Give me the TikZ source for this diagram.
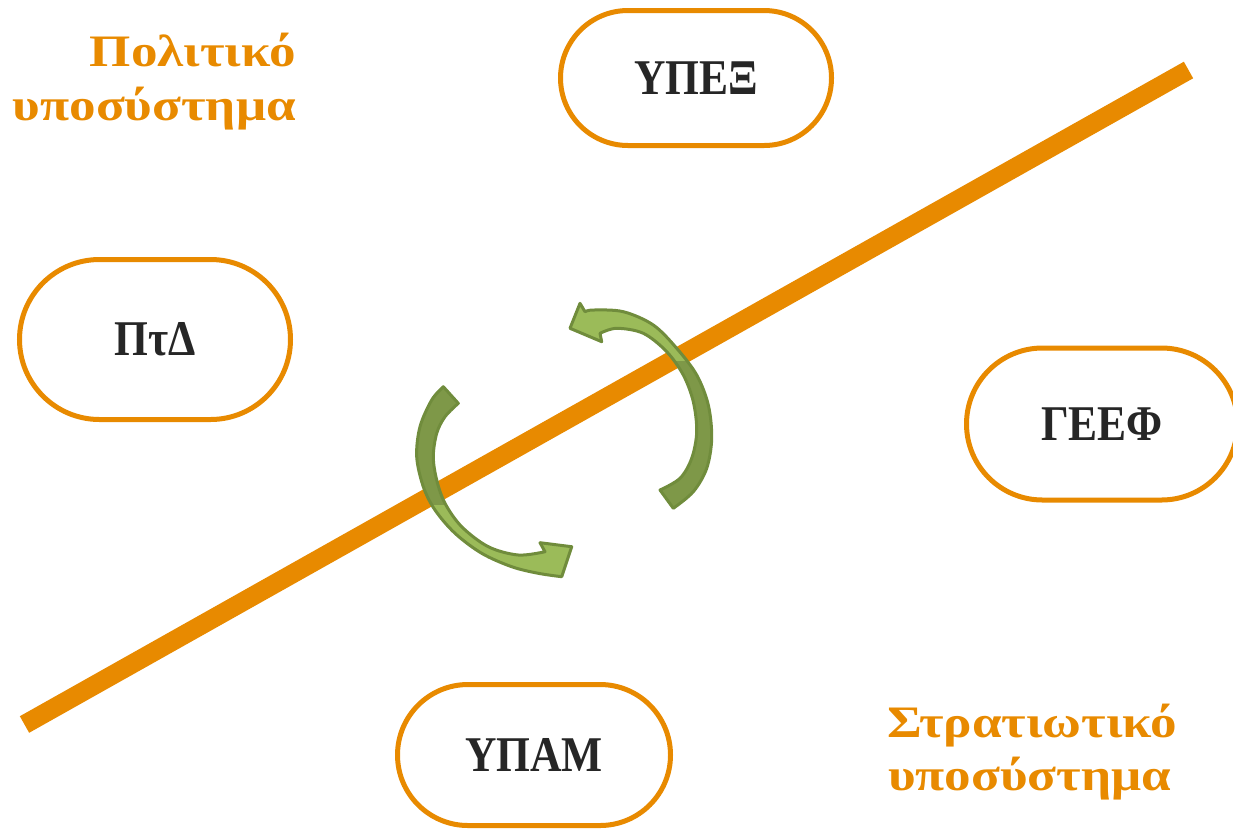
\documentclass[tikz,border=0pt]{standalone}
\usepackage{fontspec}
\setmainfont{Liberation Serif}
\newfontfamily\labelfont[FakeStretch=1.18]{Liberation Serif}
\newfontfamily\pillfont[FakeStretch=0.87]{Liberation Serif}
\definecolor{orng}{HTML}{E88A00}
\definecolor{txtdark}{HTML}{262626}
\definecolor{gdark}{HTML}{7E9848}
\definecolor{glight}{HTML}{9BBB59}
\definecolor{gline}{HTML}{708C3C}
\tikzset{
  pill/.style={draw=orng, line width=5pt, fill=white, rectangle, inner sep=0pt,
    font=\pillfont\bfseries\fontsize{50}{60}\selectfont, text=txtdark},
  sublabel/.style={font=\labelfont\bfseries\fontsize{45}{54}\selectfont, text=orng, inner sep=0pt},
  divider/.style={draw=orng, line width=19pt},
  arrowline/.style={draw=gline, line width=3pt, line join=round}
}
\begin{document}
\begin{tikzpicture}[x=1pt,y=-1pt]
\useasboundingbox (0,0) rectangle (1233,831);
% divider line
\coordinate (l1) at (24.5,724.5);
\coordinate (l2) at (1188.5,70);
\draw[divider] (l1) -- (l2);
% pills
\node[pill, minimum width=271pt, minimum height=135pt, rounded corners=67.5pt] (ypex) at (696,78) {\raisebox{-2pt}{ΥΠΕΞ}};
\node[pill, minimum width=271pt, minimum height=160pt, rounded corners=80pt] (ptd) at (155,339.5) {\raisebox{-2pt}{ΠτΔ}};
\node[pill, minimum width=271pt, minimum height=152pt, rounded corners=76pt] (geef) at (1102,424) {\raisebox{-2pt}{ΓΕΕΦ}};
\node[pill, minimum width=273pt, minimum height=141pt, rounded corners=70.5pt] (ypam) at (534,755) {\raisebox{-2pt}{ΥΠΑΜ}};
% labels
\node[sublabel, anchor=base east] (pol1) at (296,66) {Πολιτικό};
\node[sublabel, anchor=base east] (pol2) at (296,120) {υποσύστημα};
\node[sublabel, anchor=base west] (str1) at (887,737) {Στρατιωτικό};
\node[sublabel, anchor=base west] (str2) at (888,790) {υποσύστημα};
% curved arrow 1 (left, pointing right at bottom)
\path[save path=\arrA] (443.3,386.7) -- plot[smooth, tension=0.55] coordinates {(443.3,386.7) (431.7,400) (420,426.7) (416.7,456.7) (423.3,486.7) (435,510) (455,533.3) (481.7,553.3) (511.7,566.7) (538.3,573.3) (561.7,576.7)}
  -- (571.7,546.7) -- (540,542.7) -- (545,551.7)
  -- plot[smooth, tension=0.55] coordinates {(545,551.7) (518.3,555) (488.3,546.7) (461.7,526.7) (445,503.3) (436.7,480) (433.3,456.7) (436.7,433.3) (445,416.7) (458.3,403.3)} -- cycle;
\fill[gdark, use path=\arrA];
\begin{scope}
  \clip (380,505) rectangle (600,600);
  \fill[glight, use path=\arrA];
\end{scope}
\draw[arrowline, use path=\arrA];
% curved arrow 2 (right, pointing left at top)
\path[save path=\arrB] (673.3,508.3) -- plot[smooth, tension=0.55] coordinates {(673.3,508.3) (693.3,491.7) (706.7,468.3) (711.7,438.3) (708.3,405) (696.7,375) (676.7,348.3) (653.3,325) (623.3,311.7) (593.3,310) (585,311.7)}
  -- (580,303.3) -- (570,328.3) -- (601.7,341.7) -- (600,333.3)
  -- plot[smooth, tension=0.55] coordinates {(600,333.3) (616.7,328.3) (643.3,333.3) (666.7,351.7) (683.3,375) (693.3,401.7) (696.7,431.7) (691.7,458.3) (680,478.3) (660,490)} -- cycle;
\fill[gdark, use path=\arrB];
\begin{scope}
  \clip (550,280) rectangle (720,360);
  \fill[glight, use path=\arrB];
\end{scope}
\draw[arrowline, use path=\arrB];
\end{tikzpicture}
\end{document}
